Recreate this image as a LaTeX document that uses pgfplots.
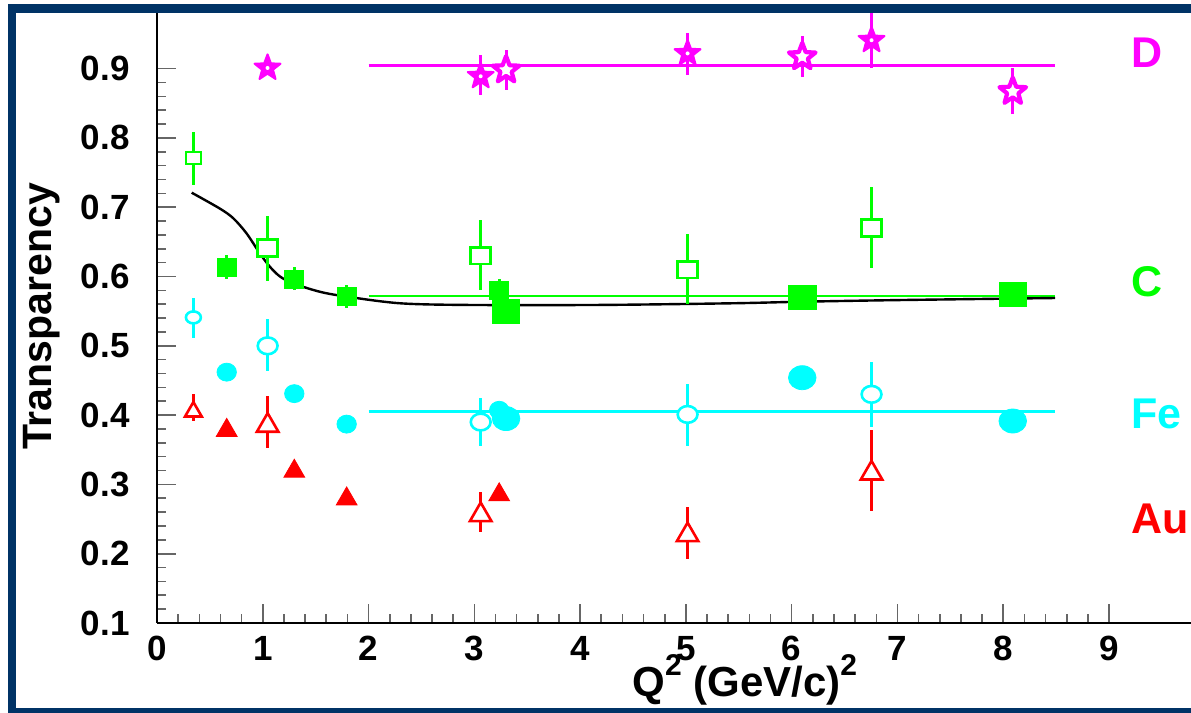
\documentclass[border=0pt]{standalone}
\usepackage{fontspec}
\setmainfont{Liberation Sans}
\usepackage{pgfplots}
\pgfplotsset{compat=1.18}

\definecolor{frameblue}{RGB}{0,51,102}
\definecolor{cD}{RGB}{255,0,255}
\definecolor{cC}{RGB}{0,255,0}
\definecolor{cFe}{RGB}{0,255,255}
\definecolor{cAu}{RGB}{255,0,0}

% five-pointed star marks
\pgfdeclareplotmark{pstar}{%
  \pgfpathmoveto{\pgfpointpolar{90}{\pgfplotmarksize}}%
  \pgfpathlineto{\pgfpointpolar{126}{0.42\pgfplotmarksize}}%
  \pgfpathlineto{\pgfpointpolar{162}{\pgfplotmarksize}}%
  \pgfpathlineto{\pgfpointpolar{198}{0.42\pgfplotmarksize}}%
  \pgfpathlineto{\pgfpointpolar{234}{\pgfplotmarksize}}%
  \pgfpathlineto{\pgfpointpolar{270}{0.42\pgfplotmarksize}}%
  \pgfpathlineto{\pgfpointpolar{306}{\pgfplotmarksize}}%
  \pgfpathlineto{\pgfpointpolar{342}{0.42\pgfplotmarksize}}%
  \pgfpathlineto{\pgfpointpolar{18}{\pgfplotmarksize}}%
  \pgfpathlineto{\pgfpointpolar{54}{0.42\pgfplotmarksize}}%
  \pgfpathclose
  \pgfusepathqfillstroke}
\pgfdeclareplotmark{pstardot}{%
  \pgfuseplotmark{pstar}%
  \pgfscope
  \pgfsetfillcolor{white}%
  \pgfpathcircle{\pgfpointorigin}{1pt}%
  \pgfusepathqfill
  \endpgfscope}

% D (deuterium)
\pgfplotstableread{
x     y      ep     em
1.045 0.901  0      0
3.06  0.889  0.031  0.027
5.016 0.922  0.029  0.031
6.755 0.941  0.060  0.040
}\Dfilled
\pgfplotstableread{
x     y      ep     em
3.30  0.898  0.029  0.029
6.10  0.917  0.030  0.029
8.09  0.867  0.034  0.033
}\Dopen

% C (carbon)
\pgfplotstableread{
x     y      ep     em
0.344 0.771  0.038  0.039
}\CopenLow
\pgfplotstableread{
x     y      ep     em
1.046 0.641  0.046  0.048
3.06  0.630  0.052  0.050
5.016 0.610  0.052  0.050
6.755 0.670  0.059  0.057
}\Copen
\pgfplotstableread{
x     y      ep     em
0.659 0.613  0.018  0.016
1.298 0.596  0.018  0.016
1.793 0.571  0.017  0.016
3.235 0.580  0.017  0.010
}\Cfilled
\pgfplotstableread{
x     y
3.30  0.549
6.10  0.570
8.09  0.574
}\Cbig

% Fe (iron)
\pgfplotstableread{
x     y      ep     em
0.344 0.541  0.028  0.030
}\FeopenLow
\pgfplotstableread{
x     y      ep     em
1.046 0.500  0.038  0.037
3.06  0.390  0.034  0.035
5.016 0.401  0.044  0.046
6.755 0.430  0.047  0.047
}\Feopen
\pgfplotstableread{
x     y
0.659 0.462
1.298 0.431
1.793 0.387
3.235 0.407
}\Fefilled
\pgfplotstableread{
x     y      ep     em
3.30  0.395  0      0
6.10  0.454  0.012  0.012
8.09  0.3915 0      0
}\Febig

% Au (gold)
\pgfplotstableread{
x     y      ep     em
0.344 0.405  0.025  0.014
}\AuopenLow
\pgfplotstableread{
x     y      ep     em
1.046 0.385  0.042  0.032
3.06  0.256  0.033  0.025
5.016 0.227  0.041  0.035
6.755 0.316  0.063  0.054
}\Auopen
\pgfplotstableread{
x     y
0.659 0.378
1.298 0.319
1.793 0.279
3.235 0.285
}\Aufilled

\begin{document}
\begin{tikzpicture}
\path[use as bounding box] (0,0) rectangle (595.5pt,356.5pt);
\begin{scope}
\clip (0,0) rectangle (595.5pt,356.5pt);
\begin{axis}[
  at={(78.5pt,45pt)}, anchor=south west,
  scale only axis, width=517pt, height=304.9pt,
  xmin=0, xmax=9.775, ymin=0.1, ymax=0.98,
  enlargelimits=false,
  axis lines=left,
  axis line style={-, line width=0.9pt, black},
  xtick={0,1,...,9}, ytick={0.1,0.2,...,0.9},
  minor x tick num=4, minor y tick num=4,
  tick align=inside,
  major tick length=9.5pt, minor tick length=4.5pt,
  tick style={line width=0.8pt, black!60},
  /pgf/number format/assume math mode=true,
  ticklabel style={font=\fontsize{17.5}{18}\selectfont\bfseries},
  yticklabel style={anchor=east, inner sep=0pt, xshift=-13.5pt},
  xticklabel style={anchor=north, inner sep=0pt, yshift=-6.5pt},
  yticklabel={\pgfmathprintnumber[fixed, precision=1]{\tick}},
  clip=true,
]
% global fits
\addplot[cD, line width=1.4pt] coordinates {(2.0,0.904) (8.49,0.904)};
\addplot[cC, line width=1.4pt] coordinates {(2.0,0.572) (8.49,0.572)};
\addplot[cFe, line width=1.4pt] coordinates {(2.0,0.405) (8.49,0.405)};
% Glauber-type curve
\addplot[black, line width=1.2pt, smooth] coordinates {
  (0.328,0.721) (0.595,0.698) (0.722,0.684) (0.848,0.662) (0.974,0.633)
  (1.068,0.614) (1.163,0.600) (1.289,0.590) (1.54,0.578) (1.793,0.571)
  (2.297,0.5614) (2.93,0.559) (4.19,0.559) (5.44,0.5614) (6.08,0.5636)
  (7.0,0.566) (8.49,0.569)};

% Au
\addplot[cAu, only marks, mark=triangle*, mark size=6pt]
  table[x=x, y=y] {\Aufilled};
\addplot[cAu, only marks, mark=triangle*, mark size=4.8pt,
  mark options={fill=white, line width=1.3pt},
  error bars/.cd, y dir=both, y explicit, error mark=none,
  error bar style={line width=1.5pt}]
  table[x=x, y=y, y error plus=ep, y error minus=em] {\AuopenLow};
\addplot[cAu, only marks, mark=triangle*, mark size=6.2pt,
  mark options={fill=white, line width=1.3pt},
  error bars/.cd, y dir=both, y explicit, error mark=none,
  error bar style={line width=1.5pt}]
  table[x=x, y=y, y error plus=ep, y error minus=em] {\Auopen};

% Fe
\addplot[cFe, only marks, mark=*, mark size=4.5pt, mark options={xscale=1.08}]
  table[x=x, y=y] {\Fefilled};
\addplot[cFe, only marks, mark=*, mark size=6pt, mark options={xscale=1.15},
  error bars/.cd, y dir=both, y explicit, error mark=none,
  error bar style={line width=1.5pt}]
  table[x=x, y=y, y error plus=ep, y error minus=em] {\Febig};
\addplot[cFe, only marks, mark=*, mark size=3pt,
  mark options={fill=white, line width=1.3pt, xscale=1.25},
  error bars/.cd, y dir=both, y explicit, error mark=none,
  error bar style={line width=1.5pt}]
  table[x=x, y=y, y error plus=ep, y error minus=em] {\FeopenLow};
\addplot[cFe, only marks, mark=*, mark size=4.2pt,
  mark options={fill=white, line width=1.3pt, xscale=1.18},
  error bars/.cd, y dir=both, y explicit, error mark=none,
  error bar style={line width=1.5pt}]
  table[x=x, y=y, y error plus=ep, y error minus=em] {\Feopen};

% C
\addplot[cC, only marks, mark=square*, mark size=4.4pt, mark options={xscale=1.08},
  error bars/.cd, y dir=both, y explicit, error mark=none,
  error bar style={line width=1.5pt}]
  table[x=x, y=y, y error plus=ep, y error minus=em] {\Cfilled};
\addplot[cC, only marks, mark=square*, mark size=6pt, mark options={xscale=1.15}]
  table[x=x, y=y] {\Cbig};
\addplot[cC, only marks, mark=square*, mark size=3pt,
  mark options={fill=white, line width=1.3pt, xscale=1.25},
  error bars/.cd, y dir=both, y explicit, error mark=none,
  error bar style={line width=1.5pt}]
  table[x=x, y=y, y error plus=ep, y error minus=em] {\CopenLow};
\addplot[cC, only marks, mark=square*, mark size=4.2pt,
  mark options={fill=white, line width=1.3pt, xscale=1.18},
  error bars/.cd, y dir=both, y explicit, error mark=none,
  error bar style={line width=1.5pt}]
  table[x=x, y=y, y error plus=ep, y error minus=em] {\Copen};

% D
\addplot[cD, only marks, mark=pstardot, mark size=6.8pt,
  mark options={fill=cD, line width=1pt, line join=round},
  error bars/.cd, y dir=both, y explicit, error mark=none,
  error bar style={line width=1.5pt}]
  table[x=x, y=y, y error plus=ep, y error minus=em] {\Dfilled};
\addplot[cD, only marks, mark=pstar, mark size=7pt,
  mark options={fill=white, line width=2.1pt, line join=round},
  error bars/.cd, y dir=both, y explicit, error mark=none,
  error bar style={line width=1.5pt}]
  table[x=x, y=y, y error plus=ep, y error minus=em] {\Dopen};
\end{axis}

% axis titles
\node[rotate=90, anchor=base, inner sep=0pt,
  font=\fontsize{20.5}{22}\selectfont\bfseries] at (26pt,198.25pt) {Transparency};
\node[anchor=base west, inner sep=0pt,
  font=\fontsize{21}{22}\selectfont\bfseries] at (316pt,8pt)
  {Q\raisebox{0.5em}{\fontsize{15}{16}\selectfont 2} (GeV/c)\raisebox{0.5em}{\fontsize{15}{16}\selectfont 2}};

% nucleus labels
\begin{scope}[every node/.style={anchor=base west, inner sep=0pt,
  font=\fontsize{21.5}{22}\selectfont\bfseries}]
\node[text=cD] at (565.5pt,322.5pt) {D};
\node[text=cC] at (565.5pt,208pt) {C};
\node[text=cFe] at (565.5pt,142pt) {Fe};
\node[text=cAu] at (565.5pt,89.5pt) {Au};
\end{scope}

% slide frame
\draw[frameblue, line width=4.25pt] (6pt,0.25pt) rectangle (620pt,352.3pt);
\end{scope}
\end{tikzpicture}
\end{document}
